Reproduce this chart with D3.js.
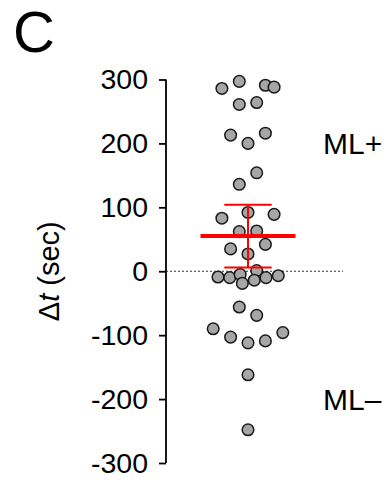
<!DOCTYPE html>
<html>
<head>
<meta charset="utf-8">
<script src="https://cdn.jsdelivr.net/npm/d3@7"></script>
<style>
  body { margin: 0; background: #fff; }
  text { font-family: "Liberation Sans", Arial, Helvetica, sans-serif; fill: #000; }
</style>
</head>
<body>
<div id="chart"></div>
<script>
// delta t values (sec), with horizontal jitter slot
const deltaT = [286, 297, 291, 288, 261, 264, 213, 200, 216, 154, 136,
                83, 92, 89, 62, 63, 42, 35, 27, 1,
                -9, -10, -5, -19, -14, -10, -7, -56, -69,
                -90, -103, -112, -109, -96, -162, -248];
const jitter = [-3, -1, 2, 3, -1, 1, -2, 0, 2, 1, -1,
                -3, 0, 3, -1, 1, 2, -2, 0, 1,
                -3.45, -2.1, -0.9, -0.65, 0.72, 2.07, 3.48, -1, 1,
                -4, -2, 0, 2, 4, 0, 0];
const meanVal = 55;
const ciLow = 6, ciHigh = 104;
const yTicks = [-300, -200, -100, 0, 100, 200, 300];
const groupLabels = [{ text: "ML+", value: 200 }, { text: "ML\u2013", value: -200 }];

const W = 391, H = 483;
const svg = d3.select("#chart").append("svg")
  .attr("width", W).attr("height", H);

const axisX = 166;
const y = d3.scaleLinear().domain([-300, 300]).range([463, 79.5]);
const x = d3.scaleLinear().domain([-5, 5]).range([248 - 43.5, 248 + 43.5]);

// panel letter
svg.append("text")
  .attr("x", 13).attr("y", 52)
  .style("font-size", "58px")
  .text("C");

// y axis
const yAxis = d3.axisLeft(y)
  .tickValues(yTicks)
  .tickFormat(d => String(d))
  .tickSize(7)
  .tickSizeOuter(0)
  .tickPadding(11);

const gy = svg.append("g")
  .attr("transform", "translate(" + axisX + ",0)")
  .call(yAxis);
gy.select(".domain").attr("stroke", "#000").attr("stroke-width", 1.8)
  .attr("d", "M0," + y(300) + "V" + y(-300));
gy.selectAll(".tick line").attr("stroke", "#000").attr("stroke-width", 1.8);
gy.selectAll(".tick text")
  .style("font-size", "28.5px")
  .attr("fill", "#000");

// axis title
svg.append("text")
  .attr("transform", "translate(59," + y(0) + ") rotate(-90)")
  .attr("text-anchor", "middle")
  .style("font-size", "29px")
  .html('\u0394<tspan font-style="italic">t</tspan> (sec)');

// zero reference line
svg.append("line")
  .attr("x1", axisX).attr("x2", 343)
  .attr("y1", y(0)).attr("y2", y(0))
  .attr("stroke", "#333")
  .attr("stroke-width", 1)
  .attr("stroke-dasharray", "2,2");

// points
svg.append("g").selectAll("circle")
  .data(deltaT)
  .join("circle")
  .attr("cx", (d, i) => x(jitter[i]))
  .attr("cy", d => y(d))
  .attr("r", 5.8)
  .attr("fill", "#a6a6a6")
  .attr("stroke", "#1a1a1a")
  .attr("stroke-width", 1.5);

// mean and error bars
const cx = x(0);
const red = "#ff0000";
const eb = svg.append("g");
eb.append("line")
  .attr("x1", cx).attr("x2", cx)
  .attr("y1", y(ciHigh)).attr("y2", y(ciLow))
  .attr("stroke", red).attr("stroke-width", 2);
[ciHigh, ciLow].forEach(v => {
  eb.append("line")
    .attr("x1", cx - 23.7).attr("x2", cx + 23.7)
    .attr("y1", y(v)).attr("y2", y(v))
    .attr("stroke", red).attr("stroke-width", 2);
});
eb.append("line")
  .attr("x1", cx - 47.5).attr("x2", cx + 47.5)
  .attr("y1", y(meanVal)).attr("y2", y(meanVal))
  .attr("stroke", red).attr("stroke-width", 4);

// group labels
svg.append("g").selectAll("text")
  .data(groupLabels)
  .join("text")
  .attr("x", 323)
  .attr("y", d => y(d.value) + 11)
  .style("font-size", "30px")
  .text(d => d.text);
</script>
</body>
</html>
